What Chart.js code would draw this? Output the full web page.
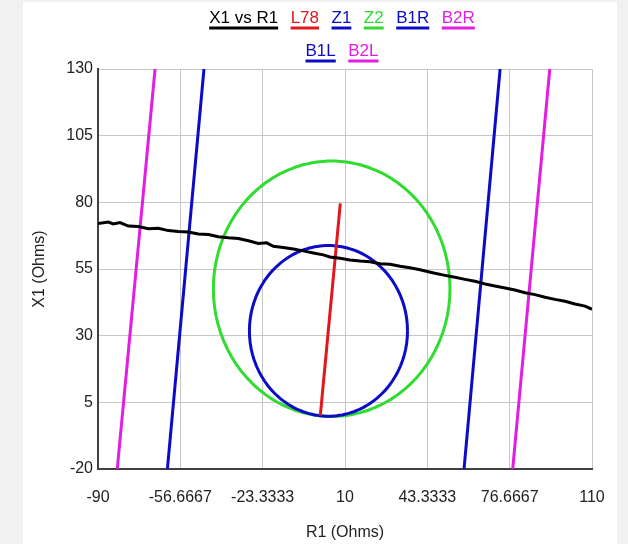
<!DOCTYPE html>
<html>
<head>
<meta charset="utf-8">
<script src="https://cdn.jsdelivr.net/npm/chart.js@4.4.1/dist/chart.umd.min.js"></script>
<style>
  html, body { margin: 0; padding: 0; background: #f1f1f1; }
  body { width: 628px; height: 544px; position: relative; overflow: hidden; }
  #wrap { position: absolute; left: 23px; top: 2px; width: 594px; height: 542px; background: #fff; }
  canvas { display: block; }
</style>
</head>
<body>
<div id="wrap"><canvas id="chart" width="594" height="542"></canvas></div>
<script>
// impedance trajectory X1 vs R1
const traceR = [-90, -85.8, -83.8, -81.1, -77.7, -73.7, -69.6, -65.6, -61.5, -57.5, -53.4, -49.4, -45.3, -41.3, -37.2,
  -33.2, -29.1, -25.1, -21.7, -19.0, -15.0, -10.9, -6.9, -2.8, 1.2, 3.9, 8.0, 12.0, 16.1, 20.1, 24.2, 28.2, 32.3, 36.3,
  40.4, 43.7, 46.4, 50.5, 54.5, 58.6, 62.6, 66.7, 70.7, 74.8, 78.8, 82.9, 86.9, 91.0, 95.0, 99.1, 103.1, 107.2, 110];
const traceX = [72.1, 72.6, 71.9, 72.4, 71.1, 70.9, 70.1, 70.3, 69.4, 69.1, 68.9, 68.1, 67.9, 67.1, 66.7,
  66.4, 65.6, 64.6, 64.8, 63.5, 63.1, 62.5, 61.8, 61.0, 60.3, 59.5, 59.0, 58.4, 58.0, 57.7, 57.0, 56.8, 56.0, 55.5,
  54.7, 54.0, 53.4, 52.6, 51.9, 51.1, 50.4, 49.4, 48.6, 47.9, 47.1, 46.1, 45.4, 44.4, 43.6, 42.9, 41.9, 41.1, 39.9];

// line L78
const lineR = [0, 8.1];
const lineX = [0, 79.6];

// mho zones: centre and radius
const zoneNames = ['Z1', 'Z2'];
const zoneCenterR = [3.3, 4.6];
const zoneCenterX = [31.8, 47.6];
const zoneRadius = [32.0, 47.9];

// blinders: end points at X = -20 and X = 130
const blinderNames = ['B1R', 'B2R', 'B1L', 'B2L'];
const blinderR1 = [58.2, 77.9, -61.9, -82.2];
const blinderR2 = [72.8, 92.9, -47.1, -66.9];
const blinderX1 = [-20, -20, -20, -20];
const blinderX2 = [130, 130, 130, 130];

// axis ticks
const xTickValues = [-90, -56.6667, -23.3333, 10, 43.3333, 76.6667, 110];
const xTickLabels = ['-90', '-56.6667', '-23.3333', '10', '43.3333', '76.6667', '110'];
const yTickValues = [-20, 5, 30, 55, 80, 105, 130];
const yTickLabels = ['-20', '5', '30', '55', '80', '105', '130'];

const FONT = '"Liberation Sans", Arial, sans-serif';
const colors = {
  X1: '#000000', L78: '#e3161c', Z1: '#0c0cc8', Z2: '#2fdc2f',
  B1R: '#0c0cc8', B2R: '#e21ee2', B1L: '#0c0cc8', B2L: '#e21ee2'
};

const circle = (i) => {
  const pts = [];
  for (let a = 0; a <= 360; a += 4) {
    const t = a * Math.PI / 180;
    pts.push({ x: zoneCenterR[i] + zoneRadius[i] * Math.cos(t), y: zoneCenterX[i] + zoneRadius[i] * Math.sin(t) });
  }
  return pts;
};

const lineSet = (label, data, tension = 0) => ({
  label, data,
  borderColor: colors[label],
  backgroundColor: colors[label],
  borderWidth: 3,
  pointRadius: 0,
  showLine: true,
  fill: false,
  tension,
});

const datasets = [
  lineSet('X1', traceR.map((r, i) => ({ x: r, y: traceX[i] }))),
  lineSet('L78', lineR.map((r, i) => ({ x: r, y: lineX[i] }))),
  // tiny tension keeps Chart.js off its x-decimating fast path for the closed circles
  ...zoneNames.map((n, i) => lineSet(n, circle(i), 0.0001)),
  ...blinderNames.map((n, i) => lineSet(n, [{ x: blinderR1[i], y: blinderX1[i] }, { x: blinderR2[i], y: blinderX2[i] }])),
];
datasets[0].label = 'X1 vs R1';

// legend with the coloured line drawn under each label
const underlineLegend = {
  id: 'underlineLegend',
  afterDraw(chart) {
    const ctx = chart.ctx;
    const area = chart.chartArea;
    ctx.save();
    ctx.font = '17px ' + FONT;
    ctx.textBaseline = 'middle';
    ctx.textAlign = 'left';
    const gap = 12.5;
    const items = chart.data.datasets.map(ds => ({ text: ds.label, color: ds.borderColor, w: ctx.measureText(ds.label).width }));
    const rows = [[]];
    let rowW = 0;
    items.forEach(it => {
      const row = rows[rows.length - 1];
      const add = (row.length ? gap : 0) + it.w;
      if (row.length && rowW + add > 285) {
        rows.push([it]);
        rowW = it.w;
      } else {
        row.push(it);
        rowW += add;
      }
    });
    const cx = (area.left + area.right) / 2 - 3;
    rows.forEach((row, r) => {
      const total = row.reduce((s, it) => s + it.w, 0) + gap * (row.length - 1);
      let x = cx - total / 2;
      const y = 16 + r * 33;
      row.forEach(it => {
        ctx.fillStyle = it.color;
        ctx.fillText(it.text, x, y);
        ctx.fillRect(x, y + 8.5, it.w, 3);
        x += it.w + gap;
      });
    });
    ctx.restore();
  }
};

new Chart(document.getElementById('chart').getContext('2d'), {
  type: 'scatter',
  data: { datasets },
  plugins: [underlineLegend],
  options: {
    responsive: false,
    animation: false,
    layout: { padding: { top: 67, right: 25, left: 0, bottom: 0 } },
    plugins: {
      legend: { display: false },
      tooltip: { enabled: false },
    },
    scales: {
      x: {
        type: 'linear',
        min: -90,
        max: 110,
        afterBuildTicks: (scale) => { scale.ticks = xTickValues.map(v => ({ value: v })); },
        afterFit: (scale) => {
          scale.height = 75;
          scale.paddingLeft = 0;
          scale.paddingRight = 0;
        },
        grid: { color: '#c6c6c6', lineWidth: 1, drawTicks: false },
        border: { display: true, color: '#404040', width: 2 },
        ticks: {
          padding: 19,
          color: '#222',
          font: { family: FONT, size: 16 },
          maxRotation: 0,
          autoSkip: false,
          callback: (v, i) => xTickLabels[i],
        },
        title: {
          display: true,
          text: 'R1 (Ohms)',
          color: '#222',
          font: { family: FONT, size: 16 },
          padding: { top: 0, bottom: 2 },
        },
      },
      y: {
        type: 'linear',
        min: -20,
        max: 130,
        afterBuildTicks: (scale) => { scale.ticks = yTickValues.map(v => ({ value: v })); },
        afterFit: (scale) => {
          scale.width = 75;
          scale.paddingTop = 0;
          scale.paddingBottom = 0;
        },
        grid: { color: '#c6c6c6', lineWidth: 1, drawTicks: false },
        border: { display: true, color: '#404040', width: 2 },
        ticks: {
          padding: 5,
          color: '#222',
          font: { family: FONT, size: 16 },
          autoSkip: false,
          callback: (v, i) => yTickLabels[i],
        },
        title: {
          display: true,
          text: 'X1 (Ohms)',
          color: '#222',
          font: { family: FONT, size: 16 },
          padding: { top: 7, bottom: 0 },
        },
      },
    },
  },
});
</script>
</body>
</html>
